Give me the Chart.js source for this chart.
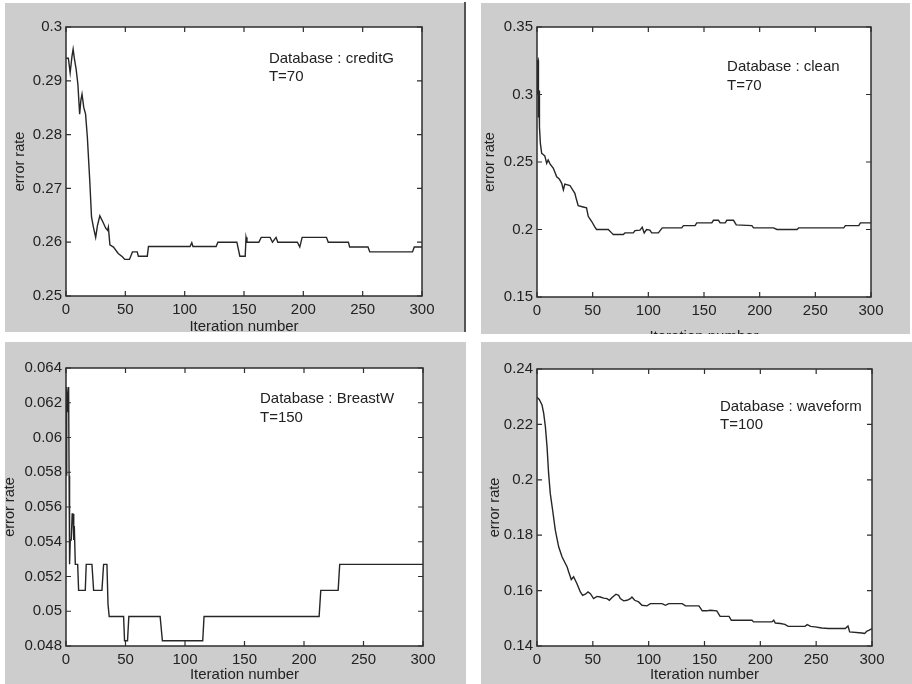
<!DOCTYPE html>
<html>
<head>
<meta charset="utf-8">
<script src="https://cdn.jsdelivr.net/npm/chart.js@4.4.1/dist/chart.umd.min.js"></script>
<style>
html, body { margin: 0; padding: 0; background: #fff; }
body { width: 912px; height: 684px; position: relative; overflow: hidden; }
.gray { position: absolute; background: #cdcdcd; }
.clip { position: absolute; overflow: hidden; }
.clip canvas { position: absolute; left: 0; top: 0; }
</style>
</head>
<body>
<div class="gray" style="left:5px;top:3px;width:461px;height:329px"></div>
<div style="position:absolute;left:464px;top:2px;width:2px;height:330px;background:#555"></div>
<div class="gray" style="left:481px;top:3px;width:429px;height:331px"></div>
<div class="gray" style="left:5px;top:342px;width:461px;height:342px"></div>
<div class="gray" style="left:481px;top:342px;width:431px;height:342px"></div>

<div class="clip" style="left:0;top:0;width:466px;height:336px"><canvas id="c1" width="466" height="336"></canvas></div>
<div class="clip" style="left:466px;top:0;width:446px;height:334px"><canvas id="c2" width="446" height="346"></canvas></div>
<div class="clip" style="left:0;top:336px;width:466px;height:348px"><canvas id="c3" width="466" height="348"></canvas></div>
<div class="clip" style="left:466px;top:336px;width:446px;height:348px"><canvas id="c4" width="446" height="348"></canvas></div>

<script>
// ---- data ----
var xTicks = [0, 50, 100, 150, 200, 250, 300];
var creditTicks = [0.25, 0.26, 0.27, 0.28, 0.29, 0.3];
var cleanTicks = [0.15, 0.2, 0.25, 0.3, 0.35];
var breastTicks = [0.048, 0.05, 0.052, 0.054, 0.056, 0.058, 0.06, 0.062, 0.064];
var waveTicks = [0.14, 0.16, 0.18, 0.2, 0.22, 0.24];

var dbNames = ['creditG', 'clean', 'BreastW', 'waveform'];
var tValues = [70, 70, 150, 100];

var creditIter = [0, 2, 3.5, 5, 6, 7, 8.5, 10, 11.5, 12.5, 13.5, 15, 16.5, 18, 20, 21.5, 23, 25, 26.5, 28.5,
  31, 33.5, 35, 35.7, 37, 40, 44, 47.5, 49.5, 53.5, 56, 60, 61, 68.5, 69.5, 104.5, 106, 107, 126.5, 128,
  144, 146.5, 151, 151.7, 152.5, 162.5, 164.5, 172, 174, 177, 178.5, 195, 197, 199, 219.5, 221, 238, 239, 254.5, 256,
  292, 293.5, 300];
var creditErr = [0.2942, 0.2942, 0.2915, 0.2945, 0.2959, 0.2942, 0.2922, 0.2894, 0.2838, 0.2863, 0.2875, 0.285, 0.2838, 0.2795, 0.2715, 0.2647, 0.2629, 0.2609, 0.2631, 0.2649,
  0.2638, 0.2626, 0.2622, 0.2628, 0.2595, 0.2591, 0.2579, 0.2573, 0.2568, 0.2568, 0.2582, 0.2582, 0.2574, 0.2574, 0.2592, 0.2592, 0.2599, 0.2592, 0.2592, 0.26,
  0.26, 0.2574, 0.2574, 0.2609, 0.26, 0.26, 0.2609, 0.2609, 0.26, 0.2609, 0.26, 0.26, 0.2591, 0.2609, 0.2609, 0.26, 0.26, 0.2591, 0.2591, 0.2582,
  0.2582, 0.2591, 0.2591];

var cleanIter = [0, 0.5, 1, 1.3, 1.8, 2.2, 3, 4.2, 5, 7, 8.7, 10, 11.7, 14.7, 17.7, 20, 22.2, 23.7, 25, 29.6,
  34, 35.5, 37, 41.5, 44.5, 46, 49, 52, 53.5, 64, 67, 68.5, 77.5, 79, 86.5, 88, 92.5, 94.5, 96.3, 98.4,
  101.4, 103, 109, 112.5, 130, 131.5, 142, 143.5, 157, 158.5, 163, 164.5, 169, 170.5, 176.5, 179, 193, 194.5, 212.5, 215.5,
  233.5, 235, 275.5, 277, 289, 290.5, 300];
var cleanErr = [0.3, 0.3247, 0.3256, 0.283, 0.303, 0.276, 0.264, 0.2564, 0.2559, 0.2545, 0.249, 0.2515, 0.2486, 0.2453, 0.2391, 0.2375, 0.2342, 0.2293, 0.2336, 0.2326,
  0.2268, 0.222, 0.2177, 0.2167, 0.216, 0.2098, 0.2061, 0.2017, 0.2, 0.2, 0.1975, 0.1963, 0.1963, 0.1975, 0.1975, 0.1992, 0.1995, 0.2017, 0.1975, 0.2,
  0.1995, 0.1975, 0.1975, 0.2012, 0.2012, 0.2029, 0.2029, 0.2049, 0.2049, 0.2068, 0.2068, 0.2049, 0.2049, 0.2068, 0.2068, 0.2034, 0.2029, 0.2012, 0.2012, 0.2,
  0.2, 0.2012, 0.2012, 0.2029, 0.2029, 0.2049, 0.2049];

var breastIter = [0, 0.4, 0.8, 1.2, 1.6, 2.2, 2.6, 3, 3.6, 4.4, 5.2, 5.9, 6.5, 7, 7.8, 9.8, 10.6, 16.2, 17, 21.8,
  23.2, 30.2, 31.6, 34.4, 35.3, 36.3, 48.4, 49.2, 51.7, 52.8, 79.1, 81, 114.9, 116, 212.7, 214.1, 228.7, 230, 300];
var breastErr = [0.0627, 0.0578, 0.0629, 0.0615, 0.0622, 0.0629, 0.0578, 0.0527, 0.0541, 0.0541, 0.0556, 0.0556, 0.0541, 0.0549, 0.0527, 0.0527, 0.0512, 0.0512, 0.0527, 0.0527,
  0.0512, 0.0512, 0.0527, 0.0527, 0.0504, 0.0497, 0.0497, 0.0483, 0.0483, 0.0497, 0.0497, 0.0483, 0.0483, 0.0497, 0.0497, 0.0512, 0.0512, 0.0527, 0.0527];

var waveIter = [0, 2, 4.5, 6, 7.5, 9, 10.4, 11.9, 14, 16.4, 19.4, 22.4, 25.4, 26.9, 28.4, 30.7, 32.8, 35.8, 38.8, 40.9,
  43.3, 45.7, 47.8, 50.7, 53.7, 56.7, 59.7, 62.7, 64.8, 67.2, 70.7, 73.1, 74.6, 77.6, 80.6, 83.6, 85, 87.5, 91, 94,
  98.5, 101.5, 112, 115, 118, 130, 133, 145, 148, 152, 155, 161, 164, 172, 174, 192.5, 194, 210.4, 212, 213.4,
  218, 222, 225, 240, 242, 245, 249, 255, 261, 276, 278.5, 280, 291, 293.4, 295.5, 297.6, 300];
var waveErr = [0.2298, 0.229, 0.227, 0.224, 0.2192, 0.2119, 0.2023, 0.195, 0.189, 0.1818, 0.1758, 0.1722, 0.1698, 0.1686, 0.1667, 0.164, 0.165, 0.1625, 0.1595, 0.1583,
  0.1587, 0.1595, 0.1589, 0.1571, 0.1579, 0.1577, 0.1573, 0.1571, 0.1565, 0.1575, 0.1587, 0.1583, 0.1571, 0.1563, 0.1565, 0.1571, 0.1577, 0.1565, 0.1559, 0.1547,
  0.1545, 0.1553, 0.1553, 0.1547, 0.1553, 0.1553, 0.1545, 0.1545, 0.1527, 0.1527, 0.1529, 0.1527, 0.1507, 0.1507, 0.1493, 0.1493, 0.1487, 0.1487, 0.1493, 0.1483,
  0.1481, 0.1478, 0.1471, 0.1471, 0.1477, 0.1471, 0.1469, 0.1465, 0.1463, 0.1463, 0.1472, 0.1451, 0.1447, 0.1445, 0.1454, 0.1457, 0.1463];

// ---- drawing ----
var FONT = '"Liberation Sans", Arial, Helvetica, sans-serif';
var INK = '#222';

// draws the white plot box, the inward ticks on all four sides and the note text
function boxPlugin(note) {
  return {
    id: 'matlabBox',
    beforeDraw: function(chart) {
      var a = chart.chartArea, ctx = chart.ctx;
      ctx.save();
      ctx.fillStyle = '#fff';
      ctx.fillRect(a.left, a.top, a.right - a.left, a.bottom - a.top);
      ctx.restore();
    },
    afterDraw: function(chart) {
      var a = chart.chartArea, ctx = chart.ctx;
      var xs = chart.scales.x, ys = chart.scales.y;
      ctx.save();
      ctx.strokeStyle = '#2e2e2e';
      ctx.lineWidth = 1.5;
      ctx.strokeRect(a.left, a.top, a.right - a.left, a.bottom - a.top);
      ctx.lineWidth = 1.2;
      ctx.beginPath();
      xs.ticks.forEach(function(t) {
        var p = xs.getPixelForValue(t.value);
        ctx.moveTo(p, a.bottom); ctx.lineTo(p, a.bottom - 5);
        ctx.moveTo(p, a.top); ctx.lineTo(p, a.top + 5);
      });
      ys.ticks.forEach(function(t) {
        var p = ys.getPixelForValue(t.value);
        ctx.moveTo(a.left, p); ctx.lineTo(a.left + 5, p);
        ctx.moveTo(a.right, p); ctx.lineTo(a.right - 5, p);
      });
      ctx.stroke();

      ctx.font = '15px ' + FONT;
      ctx.fillStyle = INK;
      ctx.textBaseline = 'alphabetic';
      var nx = xs.getPixelForValue(note.x), ny = ys.getPixelForValue(note.y);
      note.lines.forEach(function(s, i) {
        ctx.fillText(s, nx, ny + i * note.gap);
      });
      ctx.restore();
    }
  };
}

function makePanel(id, iters, errs, yTicks, geo, note) {
  var pts = iters.map(function(x, i) { return { x: x, y: errs[i] }; });
  return new Chart(document.getElementById(id), {
    type: 'line',
    data: {
      datasets: [{
        data: pts,
        borderColor: '#262626',
        borderWidth: 1.4,
        pointRadius: 0,
        tension: 0,
        fill: false
      }]
    },
    options: {
      responsive: false,
      animation: false,
      events: [],
      layout: { padding: { left: 0, top: geo.top, right: geo.right, bottom: 0 } },
      plugins: { legend: { display: false }, tooltip: { enabled: false } },
      scales: {
        x: {
          type: 'linear', min: 0, max: 300,
          afterBuildTicks: function(s) { s.ticks = xTicks.map(function(v) { return { value: v }; }); },
          afterFit: function(s) { s.height = geo.xh; },
          grid: { display: false, drawTicks: false },
          border: { display: false },
          ticks: {
            padding: 5, autoSkip: false, maxRotation: 0, color: INK,
            font: { family: FONT, size: 15 },
            callback: function(v) { return String(v); }
          },
          title: {
            display: true, text: 'Iteration number', color: INK,
            font: { family: FONT, size: 15 },
            padding: { top: 0, bottom: geo.xtp }
          }
        },
        y: {
          type: 'linear', min: yTicks[0], max: yTicks[yTicks.length - 1],
          afterBuildTicks: function(s) { s.ticks = yTicks.map(function(v) { return { value: v }; }); },
          afterFit: function(s) { s.width = geo.yw; },
          grid: { display: false, drawTicks: false },
          border: { display: false },
          ticks: {
            padding: 4, autoSkip: false, color: INK,
            font: { family: FONT, size: 15 },
            callback: function(v) { return String(+v.toFixed(4)); }
          },
          title: {
            display: true, text: 'error rate', color: INK,
            font: { family: FONT, size: 14.5 },
            padding: { top: geo.ytp, bottom: 0 }
          }
        }
      }
    },
    plugins: [boxPlugin(note)]
  });
}

function noteLines(i) {
  return ['Database : ' + dbNames[i], 'T=' + tValues[i]];
}

makePanel('c1', creditIter, creditErr, creditTicks,
  { top: 27, right: 44, yw: 66, xh: 40, xtp: 0, ytp: 11 },
  { x: 171, y: 0.2933, gap: 18, lines: noteLines(0) });

makePanel('c2', cleanIter, cleanErr, cleanTicks,
  { top: 27, right: 41, yw: 71, xh: 49, xtp: 0, ytp: 15 },
  { x: 170.7, y: 0.3174, gap: 19, lines: noteLines(1) });

makePanel('c3', breastIter, breastErr, breastTicks,
  { top: 32, right: 43, yw: 66, xh: 38, xtp: 0, ytp: 1 },
  { x: 163, y: 0.062, gap: 19, lines: noteLines(2) });

makePanel('c4', waveIter, waveErr, waveTicks,
  { top: 33, right: 40, yw: 71, xh: 38, xtp: 0, ytp: 20 },
  { x: 163.9, y: 0.2248, gap: 18, lines: noteLines(3) });
</script>
</body>
</html>
